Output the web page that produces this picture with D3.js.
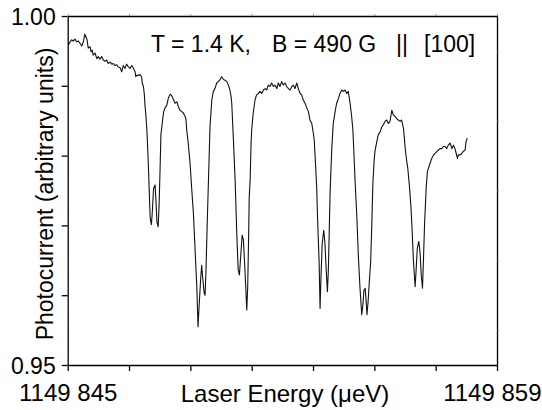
<!DOCTYPE html>
<html lang="en">
<head>
  <meta charset="UTF-8">
  <title>Photocurrent vs laser energy</title>
  <script src="https://d3js.org/d3.v7.min.js"></script>
  <style>
    body {
      margin: 0;
      background: #fff;
      font-family: "Liberation Sans", Arial, sans-serif;
    }
    #chart {
      width: 542px;
      height: 410px;
    }
    .axis path, .axis line {
      stroke: #000;
      stroke-width: 1.3px;
    }
  </style>
</head>
<body>
  <div id="chart"></div>
  <script>
    // energies in µeV above energyBase
    const energyBase = 1149000;
    const energy = [
      845.02, 845.08, 845.13, 845.18, 845.24, 845.29, 845.35, 845.40, 845.46, 845.51,
      845.56, 845.63, 845.67, 845.73, 845.76, 845.80, 845.83, 845.89, 845.95, 846.00,
      846.05, 846.11, 846.16, 846.22, 846.27, 846.32, 846.38, 846.44, 846.49, 846.54,
      846.60, 846.65, 846.71, 846.76, 846.81, 846.87, 846.92, 846.98, 847.03, 847.09,
      847.14, 847.20, 847.22, 847.25, 847.30, 847.36, 847.41, 847.43, 847.47, 847.50,
      847.52, 847.55, 847.59, 847.63, 847.66, 847.69, 847.73, 847.76, 847.80, 847.85,
      847.88, 847.91, 847.95, 847.98, 848.01, 848.04, 848.09, 848.13, 848.17, 848.23,
      848.28, 848.34, 848.39, 848.44, 848.50, 848.56, 848.61, 848.66, 848.72, 848.77,
      848.83, 848.86, 848.88, 848.93, 848.99, 849.04, 849.10, 849.15, 849.21, 849.25,
      849.29, 849.34, 849.37, 849.40, 849.45, 849.48, 849.51, 849.55, 849.60, 849.64,
      849.70, 849.75, 849.80, 849.86, 849.91, 849.97, 850.02, 850.08, 850.13, 850.19,
      850.24, 850.29, 850.33, 850.35, 850.40, 850.46, 850.51, 850.56, 850.60, 850.64,
      850.69, 850.73, 850.78, 850.84, 850.87, 850.90, 850.92, 850.95, 850.98, 851.00,
      851.05, 851.11, 851.16, 851.22, 851.27, 851.33, 851.38, 851.44, 851.49, 851.54,
      851.60, 851.65, 851.71, 851.76, 851.82, 851.87, 851.92, 851.98, 852.03, 852.09,
      852.14, 852.20, 852.25, 852.31, 852.36, 852.41, 852.47, 852.52, 852.58, 852.63,
      852.68, 852.74, 852.80, 852.85, 852.90, 852.96, 853.01, 853.04, 853.07, 853.12,
      853.15, 853.20, 853.23, 853.26, 853.30, 853.35, 853.39, 853.43, 853.47, 853.50,
      853.53, 853.56, 853.61, 853.66, 853.72, 853.77, 853.83, 853.88, 853.94, 853.99,
      854.04, 854.10, 854.15, 854.21, 854.26, 854.30, 854.33, 854.37, 854.43, 854.48,
      854.53, 854.59, 854.63, 854.66, 854.70, 854.73, 854.76, 854.80, 854.84, 854.88,
      854.92, 854.95, 854.99, 855.02, 855.08, 855.13, 855.19, 855.24, 855.29, 855.35,
      855.40, 855.46, 855.51, 855.57, 855.62, 855.68, 855.73, 855.78, 855.84, 855.89,
      855.95, 855.98, 856.00, 856.03, 856.06, 856.09, 856.14, 856.19, 856.23, 856.27,
      856.33, 856.36, 856.40, 856.45, 856.49, 856.53, 856.57, 856.60, 856.64, 856.69,
      856.73, 856.78, 856.82, 856.87, 856.93, 856.98, 857.04, 857.09, 857.14, 857.20,
      857.25, 857.31, 857.36, 857.41, 857.47, 857.53, 857.58, 857.63, 857.67, 857.71,
      857.74, 857.80, 857.85, 857.90, 857.96, 857.99, 858.03
    ];
    const photocurrent = [
      0.9958, 0.9963, 0.9966, 0.9964, 0.9967, 0.9963, 0.9964, 0.9961, 0.9957, 0.9963,
      0.9974, 0.9966, 0.9954, 0.9956, 0.9949, 0.9951, 0.9944, 0.9947, 0.9939, 0.9942,
      0.9938, 0.9942, 0.9937, 0.9935, 0.9937, 0.9932, 0.9934, 0.9931, 0.9932, 0.9929,
      0.9930, 0.9927, 0.9926, 0.9920, 0.9929, 0.9925, 0.9931, 0.9927, 0.9925, 0.9929,
      0.9925, 0.9920, 0.9913, 0.9915, 0.9915, 0.9916, 0.9913, 0.9904, 0.9899, 0.9887,
      0.9872, 0.9858, 0.9830, 0.9787, 0.9748, 0.9710, 0.9701, 0.9720, 0.9753, 0.9758,
      0.9734, 0.9705, 0.9698, 0.9729, 0.9777, 0.9830, 0.9849, 0.9863, 0.9868, 0.9872,
      0.9882, 0.9888, 0.9886, 0.9881, 0.9875, 0.9877, 0.9870, 0.9865, 0.9863, 0.9861,
      0.9856, 0.9851, 0.9837, 0.9818, 0.9789, 0.9755, 0.9717, 0.9669, 0.9612, 0.9555,
      0.9588, 0.9626, 0.9643, 0.9626, 0.9603, 0.9600, 0.9636, 0.9703, 0.9779, 0.9841,
      0.9880, 0.9892, 0.9896, 0.9904, 0.9906, 0.9909, 0.9913, 0.9909, 0.9908, 0.9906,
      0.9901, 0.9894, 0.9884, 0.9875, 0.9827, 0.9765, 0.9693, 0.9636, 0.9629, 0.9655,
      0.9686, 0.9679, 0.9636, 0.9579, 0.9612, 0.9684, 0.9741, 0.9765, 0.9818, 0.9837,
      0.9861, 0.9880, 0.9887, 0.9889, 0.9892, 0.9889, 0.9894, 0.9896, 0.9894, 0.9901,
      0.9899, 0.9904, 0.9899, 0.9901, 0.9896, 0.9904, 0.9899, 0.9906, 0.9901, 0.9904,
      0.9899, 0.9896, 0.9894, 0.9899, 0.9901, 0.9896, 0.9904, 0.9896, 0.9889, 0.9887,
      0.9880, 0.9875, 0.9868, 0.9863, 0.9851, 0.9846, 0.9832, 0.9822, 0.9798, 0.9755,
      0.9708, 0.9646, 0.9581, 0.9626, 0.9674, 0.9693, 0.9674, 0.9636, 0.9605, 0.9636,
      0.9693, 0.9751, 0.9808, 0.9846, 0.9863, 0.9875, 0.9882, 0.9889, 0.9894, 0.9892,
      0.9894, 0.9889, 0.9892, 0.9875, 0.9856, 0.9837, 0.9808, 0.9765, 0.9712, 0.9655,
      0.9612, 0.9572, 0.9588, 0.9607, 0.9610, 0.9593, 0.9572, 0.9593, 0.9622, 0.9648,
      0.9705, 0.9758, 0.9791, 0.9806, 0.9820, 0.9830, 0.9834, 0.9841, 0.9844, 0.9849,
      0.9851, 0.9846, 0.9849, 0.9865, 0.9858, 0.9856, 0.9853, 0.9851, 0.9849, 0.9851,
      0.9839, 0.9825, 0.9813, 0.9801, 0.9791, 0.9782, 0.9758, 0.9729, 0.9696, 0.9653,
      0.9612, 0.9634, 0.9667, 0.9677, 0.9662, 0.9629, 0.9610, 0.9648, 0.9705, 0.9753,
      0.9777, 0.9784, 0.9789, 0.9796, 0.9801, 0.9803, 0.9806, 0.9808, 0.9810, 0.9810,
      0.9813, 0.9813, 0.9810, 0.9815, 0.9818, 0.9810, 0.9815, 0.9810, 0.9803, 0.9796,
      0.9801, 0.9801, 0.9803, 0.9806, 0.9808, 0.9820, 0.9825
    ];

    const xTicks = [845, 847, 849, 851, 853, 855, 857, 859];
    const xTickLabels = ['1149 845', '', '', '', '', '', '', '1149 859'];
    const yTicks = [0.95, 0.96, 0.97, 0.98, 0.99, 1.00];
    const yTickLabels = ['0.95', '', '', '', '', '1.00'];
    const yMinorTicks = [0.955, 0.965, 0.975, 0.985, 0.995];

    const W = 542, H = 410;
    const margin = { top: 16, right: 45, bottom: 45, left: 67.7 };
    const width = W - margin.left - margin.right;
    const height = H - margin.top - margin.bottom;

    const svg = d3.select('#chart').append('svg')
      .attr('width', W)
      .attr('height', H);
    const g = svg.append('g')
      .attr('transform', `translate(${margin.left},${margin.top})`);

    const x = d3.scaleLinear()
      .domain([energyBase + 845, energyBase + 859])
      .range([0, width]);
    const y = d3.scaleLinear()
      .domain([0.95, 1.00])
      .range([height, 0]);

    const fontFamily = '"Liberation Sans", Arial, sans-serif';

    // bottom axis
    const xAxisG = g.append('g')
      .attr('class', 'axis')
      .attr('transform', `translate(0,${height})`)
      .call(d3.axisBottom(x)
        .tickValues(xTicks.map(t => energyBase + t))
        .tickSize(6)
        .tickSizeOuter(0)
        .tickFormat((d, i) => xTickLabels[i]));
    xAxisG.selectAll('text')
      .attr('y', 0)
      .attr('dy', 0)
      .attr('transform', 'translate(0,36)')
      .style('font-size', '24px')
      .style('font-family', fontFamily)
      .attr('fill', '#000');
    xAxisG.selectAll('.tick:last-of-type text')
      .attr('text-anchor', 'end')
      .attr('x', W - margin.left - width - 1);

    // left axis
    const yAxisG = g.append('g')
      .attr('class', 'axis')
      .call(d3.axisLeft(y)
        .tickValues(yTicks)
        .tickSize(6)
        .tickSizeOuter(0)
        .tickFormat((d, i) => yTickLabels[i]));
    yAxisG.selectAll('text')
      .attr('x', -12)
      .attr('dy', '0.36em')
      .style('font-size', '23px')
      .style('font-family', fontFamily)
      .attr('fill', '#000');

    // top and right frame with small ticks
    const topAxisG = g.append('g')
      .attr('class', 'axis')
      .call(d3.axisTop(x)
        .tickValues(xTicks.map(t => energyBase + t))
        .tickSize(2)
        .tickSizeOuter(0)
        .tickFormat(''));
    topAxisG.selectAll('line').style('stroke-width', '0.8px').style('stroke', '#777');
    const rightAxisG = g.append('g')
      .attr('class', 'axis')
      .attr('transform', `translate(${width},0)`)
      .call(d3.axisRight(y)
        .tickValues(yMinorTicks)
        .tickSize(2)
        .tickSizeOuter(0)
        .tickFormat(''));
    rightAxisG.selectAll('line').style('stroke-width', '0.8px').style('stroke', '#777');

    // spectrum
    const line = d3.line()
      .x(d => x(energyBase + d[0]))
      .y(d => y(d[1]));
    g.append('path')
      .datum(energy.map((e, i) => [e, photocurrent[i]]))
      .attr('fill', 'none')
      .attr('stroke', '#111')
      .attr('stroke-width', 1.1)
      .attr('stroke-linejoin', 'round')
      .attr('d', line);

    // axis titles
    svg.append('text')
      .attr('x', 285)
      .attr('y', 401.5)
      .attr('text-anchor', 'middle')
      .style('font-size', '24px')
      .text('Laser Energy (μeV)');

    svg.append('text')
      .attr('transform', 'translate(53,194) rotate(-90)')
      .attr('text-anchor', 'middle')
      .style('font-size', '23px')
      .text('Photocurrent (arbitrary units)');

    // annotation
    const note = svg.append('g').style('font-size', '23px');
    note.append('text').attr('x', 151).attr('y', 52).text('T = 1.4 K,');
    note.append('text').attr('x', 272).attr('y', 52).text('B = 490 G');
    note.append('text').attr('x', 396).attr('y', 52).text('||');
    note.append('text').attr('x', 424).attr('y', 52).text('[100]');
  </script>
</body>
</html>
